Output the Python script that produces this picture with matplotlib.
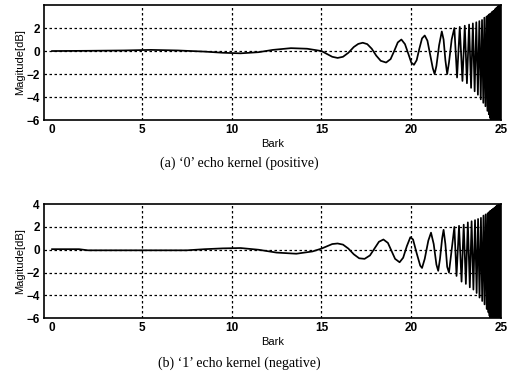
import numpy as np
import matplotlib
matplotlib.use("Agg")
import matplotlib.pyplot as plt

# '0' echo kernel (positive): points (Bark, dB)
pos_bark = [0, 2, 4, 5.5, 7, 8.5, 9.5, 10.5, 11.5, 12.3, 13.3, 14.2, 15.0,
            15.3, 15.6, 15.9, 16.2, 16.5, 16.8, 17.05, 17.3, 17.55, 17.8, 18.05,
            18.3, 18.6, 18.85, 19.05, 19.25, 19.45, 19.65, 19.85, 20.0, 20.15,
            20.3, 20.45, 20.6, 20.75, 20.9, 21.05, 21.2, 21.3, 21.4, 21.55,
            21.7, 21.8, 21.9, 22.0, 22.1, 22.25, 22.4]
pos_db = [0.0, 0.02, 0.05, 0.1, 0.05, -0.05, -0.15, -0.2, -0.1, 0.1, 0.25, 0.2, 0.0,
          -0.25, -0.5, -0.6, -0.5, -0.15, 0.35, 0.62, 0.72, 0.6, 0.2, -0.4,
          -0.85, -1.0, -0.7, 0.0, 0.75, 1.0, 0.6, -0.3, -1.0, -1.2,
          -0.8, 0.2, 1.1, 1.35, 0.9, -0.3, -1.5, -2.0, -1.3, 0.5,
          1.7, 1.0, -0.8, -2.0, -1.0, 1.0, 2.0]
# dense ripple above 22.4 Bark (alternating troughs / peaks)
pos_bark_hi = [22.55, 22.7, 22.85, 22.98, 23.1, 23.22, 23.33, 23.43, 23.53, 23.62,
               23.71, 23.79, 23.87, 23.94, 24.01, 24.07, 24.13, 24.19, 24.24, 24.29,
               24.32, 24.35, 24.38, 24.4, 24.43, 24.45, 24.48, 24.5, 24.52, 24.54,
               24.56, 24.58, 24.6, 24.62, 24.64, 24.66, 24.68, 24.7, 24.72, 24.74,
               24.76, 24.78, 24.8, 24.82, 24.84, 24.86, 24.88, 24.9, 24.92, 24.94,
               24.96, 24.98, 25.0]
pos_db_hi = [-2.3, 2.1, -2.6, 2.2, -2.8, 2.3, -3.2, 2.4, -3.5, 2.5,
             -3.8, 2.6, -4.2, 2.7, -4.5, 2.9, -4.8, 3.0, -5.2, 3.1,
             -5.5, 3.2, -5.8, 3.2, -6.0, 3.3, -6.0, 3.4, -6.0, 3.4,
             -6.0, 3.5, -6.0, 3.5, -6.0, 3.6, -6.0, 3.7, -6.0, 3.7,
             -6.0, 3.8, -6.0, 3.8, -6.0, 3.9, -6.0, 4.0, -6.0, 4.0,
             -6.0, 4.0, -6.0]

# '1' echo kernel (negative)
neg_bark = [0, 1.5, 2, 4, 6, 7.5, 8.5, 9.5, 10.5, 11.5, 12.5, 13.6, 14.5, 15.0,
            15.3, 15.6, 15.9, 16.2, 16.5, 16.8, 17.1, 17.4, 17.7, 17.95, 18.2,
            18.45, 18.7, 18.9, 19.1, 19.35, 19.55, 19.75, 19.95, 20.1, 20.3,
            20.5, 20.6, 20.75, 20.95, 21.1, 21.25, 21.4, 21.5, 21.6, 21.72,
            21.8, 21.9, 22.0, 22.1, 22.25, 22.4]
neg_db = [0.05, 0.05, -0.05, -0.05, -0.05, -0.05, 0.05, 0.12, 0.15, 0.0, -0.25, -0.35, -0.15, 0.1,
          0.3, 0.5, 0.55, 0.45, 0.1, -0.4, -0.75, -0.8, -0.5, 0.1, 0.7,
          0.9, 0.6, -0.1, -0.8, -1.1, -0.7, 0.3, 1.1, 0.9, -0.3,
          -1.4, -1.6, -0.8, 0.8, 1.5, 0.5, -1.3, -1.85, -0.8, 1.0,
          1.75, 0.5, -1.5, -2.0, 0.0, 2.0]
neg_bark_hi = [22.52, 22.66, 22.8, 22.92, 23.04, 23.15, 23.26, 23.36, 23.46, 23.55,
               23.64, 23.72, 23.8, 23.88, 23.95, 24.02, 24.08, 24.14, 24.2, 24.25,
               24.3, 24.33, 24.36, 24.39, 24.41, 24.44, 24.46, 24.48, 24.5, 24.52,
               24.54, 24.56, 24.58, 24.6, 24.62, 24.64, 24.66, 24.68, 24.7, 24.72,
               24.74, 24.76, 24.78, 24.8, 24.82, 24.84, 24.86, 24.88, 24.9, 24.92,
               24.94, 24.96, 24.98, 25.0]
neg_db_hi = [-2.3, 2.1, -2.8, 2.2, -3.0, 2.4, -3.3, 2.5, -3.5, 2.6,
             -3.8, 2.7, -4.2, 2.8, -4.5, 3.0, -4.8, 3.1, -5.2, 3.2,
             -5.5, 3.3, -5.8, 3.4, -6.0, 3.4, -6.0, 3.5, -6.0, 3.5,
             -6.0, 3.6, -6.0, 3.6, -6.0, 3.7, -6.0, 3.7, -6.0, 3.8,
             -6.0, 3.8, -6.0, 3.9, -6.0, 3.9, -6.0, 4.0, -6.0, 4.0,
             -6.0, 4.0, -6.0, 4.0]

x_ticks = [0, 5, 10, 15, 20, 25]
top_yticks = [-6, -4, -2, 0, 2]
bot_yticks = [-6, -4, -2, 0, 2, 4]
captions = ["(a) \u20180\u2019 echo kernel (positive)",
            "(b) \u20181\u2019 echo kernel (negative)"]

plt.rcParams['font.family'] = ['Liberation Sans', 'DejaVu Sans']

fig = plt.figure(figsize=(5.09, 3.86), dpi=100)
ax1 = fig.add_axes([0.0864, 0.689, 0.898, 0.298])
ax2 = fig.add_axes([0.0864, 0.176, 0.898, 0.295])

panels = [(ax1, pos_bark + pos_bark_hi, pos_db + pos_db_hi, top_yticks),
          (ax2, neg_bark + neg_bark_hi, neg_db + neg_db_hi, bot_yticks)]

for ax, xb, yd, yt in panels:
    ax.plot(xb, yd, color='black', linewidth=1.25)
    ax.set_xlim(-0.45, 25)
    ax.set_ylim(-6, 4)
    ax.set_xticks(x_ticks)
    ax.set_yticks(yt)
    ax.tick_params(length=0, labelsize=8.5, pad=3)
    for lab in ax.get_xticklabels() + ax.get_yticklabels():
        lab.set_fontweight('bold')
    for g in [5, 10, 15, 20]:
        ax.axvline(g, color='black', linewidth=0.9, linestyle=(0, (2, 2)))
    for g in [-4, -2, 0, 2]:
        ax.axhline(g, color='black', linewidth=0.9, linestyle=(0, (2, 2)))
    for s in ax.spines.values():
        s.set_linewidth(1.2)
    ax.set_ylabel('Magitude[dB]', fontsize=8, labelpad=1)
    ax.set_xlabel('Bark', fontsize=8, labelpad=2)

fig.text(0.47, 0.578, captions[0], ha='center', va='center',
         fontsize=10, family=['Liberation Serif', 'DejaVu Serif'])
fig.text(0.47, 0.06, captions[1], ha='center', va='center',
         fontsize=10, family=['Liberation Serif', 'DejaVu Serif'])

fig.savefig('out.png', dpi=100)
